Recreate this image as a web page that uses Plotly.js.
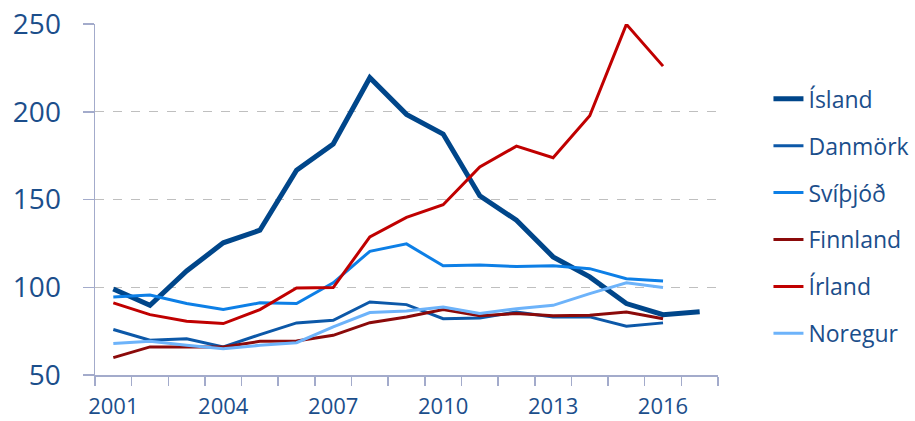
<!DOCTYPE html>
<html>
<head>
<meta charset="utf-8">
<script src="https://cdn.plot.ly/plotly-3.0.1.min.js"></script>
<style>html,body{margin:0;padding:0;background:#fff;}#chart{width:915px;height:421px;}</style>
</head>
<body>
<div id="chart"></div>
<script>
var years = [2001,2002,2003,2004,2005,2006,2007,2008,2009,2010,2011,2012,2013,2014,2015,2016,2017];
var xTickYears = [2001,2004,2007,2010,2013,2016];
var yTicks = [50,100,150,200,250];

var island   = [99,89.7,109.3,125.3,132.5,166.7,181.6,219.4,198.5,187.3,152.1,138.2,117.3,105.9,90.7,84.4,86.1];
var danmork  = [75.9,69.8,70.7,66,73,79.7,81.2,91.6,90.1,82.1,82.5,85.9,83.1,83.1,77.8,79.7];
var svithjod = [94.5,95.6,90.7,87.3,91.1,90.7,102.5,120.5,124.7,112.2,112.7,111.8,112.2,110.6,104.9,103.6];
var finnland = [59.9,66,66,66,69.2,69.4,72.6,79.8,83,87.3,83.7,85,83.7,84,85.9,82.1];
var irland   = [91.1,84.4,80.6,79.3,87.3,99.6,99.8,128.7,139.8,147,168.6,180.4,173.8,197.7,249.8,226];
var noregur  = [67.9,69.2,66.9,65,66.9,68.4,77.4,85.6,86.5,88.8,85,87.8,89.7,96.4,102.5,99.8];

var names = ['Ísland','Danmörk','Svíþjóð','Finnland','Írland','Noregur'];
var series = [island, danmork, svithjod, finnland, irland, noregur];
var colors = ['#00468A','#0C58A8','#0D7FE6','#8B0A0A','#C00000','#6DB3FA'];
var widths = [5,3,3,3,3,3];

var traces = series.map(function(vals, i){
  return {
    x: years.slice(0, vals.length),
    y: vals,
    name: names[i],
    type: 'scatter',
    mode: 'lines',
    legendgroup: 'g' + i,
    line: {color: colors[i], width: widths[i]},
    hoverinfo: 'skip'
  };
});

var textColor = '#1B4E8B';
var axisColor = '#A3ABCB';

var layout = {
  width: 915, height: 421,
  margin: {l: 94.7, r: 197.3, t: 24, b: 46.3, pad: 0, autoexpand: false},
  paper_bgcolor: '#ffffff',
  plot_bgcolor: '#ffffff',
  font: {family: 'Open Sans, sans-serif', color: textColor},
  showlegend: true,
  legend: {
    x: 1.081, xanchor: 'left', y: 0.452, yanchor: 'middle',
    font: {size: 23, color: textColor, family: 'Open Sans, sans-serif'},
    tracegroupgap: 14,
    bgcolor: 'rgba(0,0,0,0)'
  },
  xaxis: {
    type: 'linear',
    range: [2000.5, 2017.5],
    tickmode: 'array',
    tickvals: xTickYears,
    ticktext: xTickYears.map(String),
    ticks: '',
    ticklabelstandoff: 11,
    tickfont: {size: 22, color: textColor},
    showgrid: false,
    zeroline: false,
    showline: true,
    linecolor: axisColor,
    linewidth: 1.5,
    minor: {tickmode: 'linear', tick0: 2000.5, dtick: 1, ticks: 'outside', ticklen: 9, tickcolor: axisColor, tickwidth: 1.5, showgrid: false},
    fixedrange: true
  },
  yaxis: {
    range: [50, 250],
    tickmode: 'array',
    tickvals: yTicks,
    ticks: 'outside',
    ticklen: 11,
    tickcolor: axisColor,
    tickwidth: 1.5,
    ticklabelstandoff: 16,
    tickfont: {size: 28, color: textColor},
    showgrid: true,
    gridcolor: '#BFBFBF',
    griddash: 'dash',
    gridwidth: 1,
    zeroline: false,
    showline: true,
    linecolor: axisColor,
    linewidth: 1.5,
    fixedrange: true
  }
};

Plotly.newPlot('chart', traces, layout, {displayModeBar: false, staticPlot: true});
</script>
</body>
</html>
